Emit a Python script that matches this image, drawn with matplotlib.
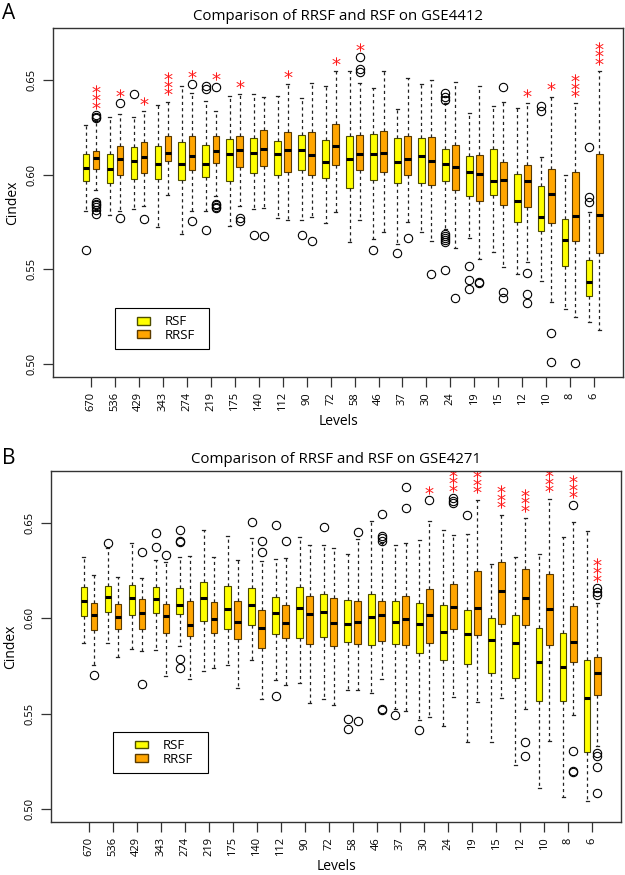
import numpy as np
import matplotlib
matplotlib.use('Agg')
import matplotlib.pyplot as plt
from matplotlib.patches import Patch, Rectangle

plt.rcParams['font.family'] = ['Open Sans', 'DejaVu Sans']

levels = ['670', '536', '429', '343', '274', '219', '175', '140', '112', '90', '72',
          '58', '46', '37', '30', '24', '19', '15', '12', '10', '8', '6']

# ---- panel A : GSE4412 ----
a_rsf_lo = [.5807, .5789, .5816, .5725, .5688, .5807, .5728, .5816, .5772, .5760, .5746,
            .5646, .5662, .5635, .5696, .5711, .5663, .5593, .5474, .5438, .5289, .5223]
a_rsf_q1 = [.5968, .5956, .5979, .5977, .5970, .5988, .5965, .6009, .5996, .6026, .5982,
            .5930, .5972, .5956, .5956, .5965, .5886, .5891, .5749, .5702, .5518, .5360]
a_rsf_med = [.6035, .6030, .6070, .6054, .6054, .6054, .6109, .6114, .6109, .6128, .6065,
             .6084, .6111, .6065, .6096, .6058, .6014, .5965, .5860, .5777, .5653, .5433]
a_rsf_q3 = [.6111, .6111, .6144, .6149, .6172, .6154, .6189, .6196, .6179, .6211, .6181,
            .6202, .6216, .6196, .6193, .6135, .6096, .6135, .6005, .5942, .5767, .5549]
a_rsf_hi = [.6263, .6307, .6302, .6367, .6468, .6389, .6418, .6425, .6418, .6407, .6470,
            .6549, .6456, .6346, .6479, .6377, .6328, .6363, .6354, .6093, .6000, .5802]
a_rsf_out = [[.5602], [], [.6425], [], [], [.6470, .6451, .5705], [], [.5680], [], [.5680], [],
             [], [.5600], [.5584], [],
             [.6433, .6412, .6395, .5686, .5675, .5665, .5655, .5645, .5495],
             [.5518, .5442, .5395], [], [], [.6363, .6337], [], [.6144, .5880, .5853]]

a_rrsf_lo = [.5917, .5807, .5833, .5890, .5807, .5886, .5833, .5825, .5760, .5777, .5805,
             .5760, .5696, .5749, .5649, .5611, .5553, .5514, .5539, .5325, .5246, .5181]
a_rrsf_q1 = [.6030, .5996, .6007, .6072, .6026, .6061, .6039, .6047, .6014, .6000, .6049,
             .6023, .6014, .5996, .5947, .5917, .5860, .5837, .5828, .5746, .5649, .5584]
a_rrsf_med = [.6088, .6084, .6093, .6114, .6096, .6123, .6128, .6137, .6132, .6102, .6153,
              .6109, .6114, .6084, .6070, .6039, .6005, .5974, .5965, .5895, .5780, .5784]
a_rrsf_q3 = [.6126, .6149, .6172, .6205, .6202, .6205, .6205, .6237, .6225, .6225, .6267,
             .6211, .6228, .6205, .6198, .6158, .6105, .6067, .6049, .6030, .6014, .6109]
a_rrsf_hi = [.6290, .6319, .6337, .6386, .6433, .6337, .6425, .6412, .6477, .6482, .6547,
             .6486, .6547, .6509, .6500, .6491, .6468, .6386, .6377, .6412, .6377, .6547]
a_rrsf_out = [[.6316, .6307, .6298, .5856, .5845, .5838, .5830, .5815, .5790],
              [.6380, .5772], [.5763], [], [.6479, .5754], [.6465, .5847, .5840, .5830, .5825],
              [.5772, .5754], [.5675], [], [.5649], [], [.6623, .6556, .6544], [], [.5667],
              [.5477], [.5346], [.5433, .5426], [.6465, .5381, .5346],
              [.5482, .5368, .5321], [.5162, .5009], [.5005], []]
a_sig = ['***', '*', '*', '***', '*', '*', '*', '', '*', '', '*',
         '*', '', '', '', '', '', '', '*', '*', '***', '***']

# ---- panel B : GSE4271 ----
b_rsf_lo = [.5870, .5872, .5840, .5832, .5853, .5724, .5754, .5779, .5676, .5662, .5575,
            .5623, .5607, .5522, .5466, .5432, .5353, .5353, .5229, .5107, .5060, .5042]
b_rsf_q1 = [.6012, .6034, .6017, .6027, .6025, .5986, .5946, .5963, .5917, .5898, .5902,
            .5878, .5858, .5863, .5818, .5784, .5759, .5713, .5689, .5567, .5566, .5299]
b_rsf_med = [.6094, .6112, .6108, .6103, .6072, .6108, .6049, .6072, .6031, .6054, .6036,
             .5969, .6007, .5980, .5969, .5930, .5917, .5889, .5872, .5772, .5745, .5581]
b_rsf_q3 = [.6164, .6170, .6178, .6164, .6159, .6192, .6173, .6161, .6114, .6165, .6126,
            .6099, .6129, .6091, .6080, .6073, .6046, .6002, .6017, .5949, .5925, .5783]
b_rsf_hi = [.6325, .6370, .6397, .6309, .6323, .6463, .6435, .6423, .6315, .6428, .6388,
            .6339, .6510, .6385, .6411, .6467, .6446, .6287, .6322, .6339, .6428, .6458]
b_rsf_out = [[], [.6394], [], [.6449, .6376], [.6467, .6409, .6400, .5788, .5739], [], [],
             [.6507], [.6489, .5592], [], [.6483], [.5471, .5421], [], [.5493], [.5413],
             [], [.6542], [], [], [], [], []]

b_rrsf_lo = [.5754, .5797, .5827, .5698, .5679, .5739, .5636, .5575, .5648, .5554, .5544,
             .5623, .5679, .5514, .5483, .5589, .5562, .5581, .5523, .5357, .5492, .5330]
b_rrsf_q1 = [.5937, .5946, .5946, .5923, .5906, .5925, .5890, .5846, .5898, .5863, .5854,
             .5866, .5884, .5858, .5869, .5942, .5911, .5972, .5965, .5858, .5771, .5599]
b_rrsf_med = [.6019, .6010, .6026, .6014, .5963, .5998, .5982, .5949, .5977, .6025, .5977,
              .5983, .6017, .5998, .6018, .6060, .6056, .6143, .6108, .6051, .5876, .5711]
b_rrsf_q3 = [.6080, .6077, .6103, .6077, .6094, .6086, .6091, .6046, .6072, .6118, .6108,
             .6094, .6094, .6118, .6153, .6179, .6248, .6296, .6262, .6236, .6068, .5797]
b_rrsf_hi = [.6227, .6217, .6213, .6297, .6327, .6323, .6306, .6304, .6318, .6385, .6370,
             .6415, .6397, .6394, .6514, .6437, .6624, .6546, .6528, .6630, .6507, .6080]
b_rrsf_out = [[.5703], [], [.6350, .5654], [.6332], [], [], [], [.6406, .6350], [.6406], [], [],
              [.6455, .5462], [.6549, .6435, .6423, .6409, .5526, .5519], [.6690, .6580],
              [.6621], [.6633, .6619, .6606], [], [], [.5348, .5278], [],
              [.6598, .5301, .5199, .5194], [.6161, .6140, .6121, .5290, .5278, .5220, .5080]]
b_sig = ['', '', '', '', '', '', '', '', '', '', '',
         '', '', '', '*', '***', '***', '***', '***', '***', '***', '***']


def make_stats(lo, q1, med, q3, hi, out):
    return [dict(whislo=a, q1=b, med=c, q3=d, whishi=e, fliers=f)
            for a, b, c, d, e, f in zip(lo, q1, med, q3, hi, out)]


def draw_panel(ax, title, rsf, rrsf, rrsf_hi, rrsf_out, sig, legend_box):
    pos = np.arange(1, len(levels) + 1)
    common = dict(widths=0.27, patch_artist=True, manage_ticks=False, capwidths=0.12,
                  whiskerprops=dict(color='#222222', linewidth=0.9, linestyle=(0, (2.5, 2.5))),
                  capprops=dict(color='#222222', linewidth=0.9),
                  medianprops=dict(color='black', linewidth=2.2, solid_capstyle='butt'),
                  flierprops=dict(marker='o', markerfacecolor='none', markeredgecolor='black',
                                  markersize=6, markeredgewidth=0.8))
    ax.bxp(rsf, positions=pos - 0.21,
           boxprops=dict(facecolor='#FFFF00', edgecolor='#4d4d00', linewidth=0.8), **common)
    ax.bxp(rrsf, positions=pos + 0.21,
           boxprops=dict(facecolor='#FFA500', edgecolor='#5a3a00', linewidth=0.8), **common)

    # significance stars above the RRSF boxes
    for i, s in enumerate(sig):
        if not s:
            continue
        top = max([rrsf_hi[i]] + rrsf_out[i])
        ys = top + 0.0054 + 0.0040 * np.arange(len(s))
        ax.plot([pos[i] + 0.21] * len(s), ys, ls='none', marker='$*$', ms=6,
                color='#ff1a1a', markeredgewidth=0)

    ax.set_xlim(-0.58, 23.2)
    ax.set_ylim(0.493, 0.6775)
    ax.set_xticks(pos)
    ax.set_xticklabels(levels, rotation=90, fontsize=8)
    ax.set_yticks([0.50, 0.55, 0.60, 0.65])
    ax.set_yticklabels(['0.50', '0.55', '0.60', '0.65'], rotation=90, va='center', fontsize=8)
    ax.tick_params(length=7, width=0.9, color='#333333', pad=4)
    for sp in ax.spines.values():
        sp.set_linewidth(1.0)
        sp.set_color('#333333')
    ax.set_title(title, fontsize=10.8, pad=6)
    ax.set_xlabel('Levels', fontsize=10, labelpad=2)
    ax.set_ylabel('Cindex', fontsize=10, labelpad=5)

    handles = [Patch(facecolor='#FFFF00', edgecolor='#4d4d00', label='RSF'),
               Patch(facecolor='#FFA500', edgecolor='#5a3a00', label='RRSF')]
    x0, y0, w, h = legend_box
    ax.legend(handles=handles, loc='center left', bbox_to_anchor=(0.135, y0 + h / 2),
              frameon=False, fontsize=9.5, borderpad=0, handlelength=1.0, handleheight=0.55,
              handletextpad=1.1, labelspacing=0.05)
    ax.add_patch(Rectangle((x0, y0), w, h, transform=ax.transAxes, fill=False,
                           edgecolor='black', linewidth=0.8))


fig = plt.figure(figsize=(6.25, 8.75), dpi=100)
ax_a = fig.add_axes([0.0848, 0.5691, 0.912, 0.3989])
ax_b = fig.add_axes([0.0816, 0.0606, 0.912, 0.4011])

draw_panel(ax_a, 'Comparison of RRSF and RSF on GSE4412',
           make_stats(a_rsf_lo, a_rsf_q1, a_rsf_med, a_rsf_q3, a_rsf_hi, a_rsf_out),
           make_stats(a_rrsf_lo, a_rrsf_q1, a_rrsf_med, a_rrsf_q3, a_rrsf_hi, a_rrsf_out),
           a_rrsf_hi, a_rrsf_out, a_sig, (0.1088, 0.0802, 0.165, 0.1175))
draw_panel(ax_b, 'Comparison of RRSF and RSF on GSE4271',
           make_stats(b_rsf_lo, b_rsf_q1, b_rsf_med, b_rsf_q3, b_rsf_hi, b_rsf_out),
           make_stats(b_rrsf_lo, b_rrsf_q1, b_rrsf_med, b_rrsf_q3, b_rrsf_hi, b_rrsf_out),
           b_rrsf_hi, b_rrsf_out, b_sig, (0.1088, 0.1396, 0.1667, 0.1168))

fig.text(0.004, 0.997, 'A', fontsize=15, va='top', ha='left')
fig.text(0.004, 0.488, 'B', fontsize=15, va='top', ha='left')

fig.savefig('out.png', dpi=100)
